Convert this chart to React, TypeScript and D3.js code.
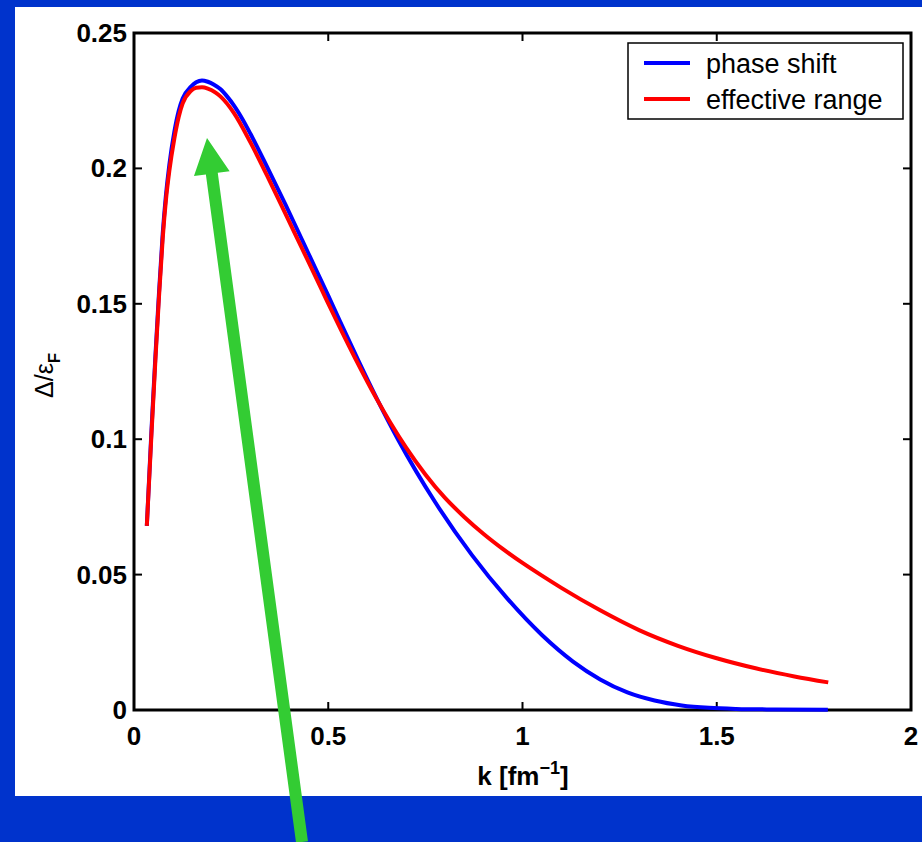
import React from "react";
import * as d3 from "d3";

const phaseK = [0.033, 0.045, 0.055, 0.0633, 0.0738, 0.082, 0.0909, 0.1038, 0.115, 0.1253, 0.1467, 0.16, 0.175, 0.19, 0.205, 0.223, 0.24, 0.257, 0.28, 0.3, 0.342, 0.39, 0.45, 0.5, 0.53, 0.58, 0.625, 0.68, 0.775, 0.87, 0.96, 1.05, 1.13, 1.2, 1.27, 1.34, 1.41, 1.48, 1.55, 1.65, 1.786];
const phaseV = [0.068, 0.1035, 0.1305, 0.1515, 0.1757, 0.1898, 0.2013, 0.2135, 0.2212, 0.2258, 0.2302, 0.2318, 0.2325, 0.232, 0.231, 0.2292, 0.2265, 0.2233, 0.218, 0.2127, 0.2007, 0.1866, 0.1683, 0.153, 0.1436, 0.1283, 0.115, 0.0998, 0.0768, 0.0572, 0.0413, 0.0277, 0.0179, 0.0113, 0.0065, 0.0035, 0.0017, 0.0008, 0.0004, 0.0002, 0.0001];

const rangeK = [0.033, 0.045, 0.055, 0.0633, 0.0738, 0.082, 0.0909, 0.1038, 0.115, 0.1253, 0.1467, 0.16, 0.175, 0.19, 0.21, 0.223, 0.257, 0.3, 0.342, 0.39, 0.43, 0.47, 0.497, 0.53, 0.57, 0.625, 0.66, 0.7, 0.75, 0.8, 0.85, 0.9, 0.95, 1.0, 1.05, 1.1, 1.2, 1.3, 1.4, 1.5, 1.6, 1.7, 1.787];
const rangeV = [0.068, 0.102, 0.129, 0.15, 0.174, 0.188, 0.199, 0.211, 0.219, 0.224, 0.2287, 0.2298, 0.23, 0.2295, 0.228, 0.2265, 0.2205, 0.2095, 0.1975, 0.1832, 0.1712, 0.1592, 0.151, 0.1412, 0.1297, 0.1148, 0.1061, 0.097, 0.087, 0.0784, 0.0713, 0.065, 0.0594, 0.0543, 0.0496, 0.0451, 0.0368, 0.0295, 0.0237, 0.0191, 0.0154, 0.0124, 0.0102];

const xTicks = [0, 0.5, 1, 1.5, 2];
const yTicks = [0, 0.05, 0.1, 0.15, 0.2, 0.25];
const xTickLabels = ["0", "0.5", "1", "1.5", "2"];
const yTickLabels = ["0", "0.05", "0.1", "0.15", "0.2", "0.25"];
const seriesNames = ["phase shift", "effective range"];

const W = 922;
const H = 842;
const L = 134, R = 911, T = 33, B = 710;

export default function App() {
  const x = d3.scaleLinear().domain([0, 2]).range([L, R]);
  const y = d3.scaleLinear().domain([0, 0.25]).range([B, T]);
  const line = d3
    .line<[number, number]>()
    .x((d) => x(d[0]))
    .y((d) => y(d[1]))
    .curve(d3.curveMonotoneX);
  const phase = phaseK.map((k, i) => [k, phaseV[i]] as [number, number]);
  const range = rangeK.map((k, i) => [k, rangeV[i]] as [number, number]);
  const font = "'Liberation Sans', Arial, Helvetica, sans-serif";

  // arrow
  const ax0 = 302, ay0 = 842, ax1 = 207, ay1 = 138;
  const dx = ax1 - ax0, dy = ay1 - ay0;
  const len = Math.hypot(dx, dy);
  const ux = dx / len, uy = dy / len;
  const px = -uy, py = ux;
  const headLen = 36, headW = 18, shaftW = 6;
  const bx = ax1 - ux * headLen, by = ay1 - uy * headLen;
  const arrowPts = [
    [ax0 + px * shaftW, ay0 + py * shaftW],
    [bx + px * shaftW, by + py * shaftW],
    [bx + px * headW, by + py * headW],
    [ax1, ay1],
    [bx - px * headW, by - py * headW],
    [bx - px * shaftW, by - py * shaftW],
    [ax0 - px * shaftW, ay0 - py * shaftW],
  ];

  return (
    <svg
      width={W}
      height={H}
      style={{ position: "absolute", left: 0, top: 0, display: "block" }}
      fontFamily={font}
    >
      <rect x={0} y={0} width={W} height={H} fill="#0033cc" />
      <rect x={15} y={7} width={W - 15} height={789} fill="#ffffff" />

      {/* frame */}
      <rect x={L} y={T} width={R - L} height={B - T} fill="none" stroke="#000" strokeWidth={3} />
      {xTicks.map((t, i) => (
        <g key={"x" + i}>
          <line x1={x(t)} x2={x(t)} y1={B} y2={B - 8} stroke="#000" strokeWidth={2} />
          <line x1={x(t)} x2={x(t)} y1={T} y2={T + 8} stroke="#000" strokeWidth={2} />
          <text x={x(t)} y={745} textAnchor="middle" fontSize={26} fontWeight="bold">
            {xTickLabels[i]}
          </text>
        </g>
      ))}
      {yTicks.map((t, i) => (
        <g key={"y" + i}>
          <line x1={L} x2={L + 8} y1={y(t)} y2={y(t)} stroke="#000" strokeWidth={2} />
          <line x1={R} x2={R - 8} y1={y(t)} y2={y(t)} stroke="#000" strokeWidth={2} />
          <text x={127} y={y(t) + 9} textAnchor="end" fontSize={26} fontWeight="bold">
            {yTickLabels[i]}
          </text>
        </g>
      ))}

      {/* curves */}
      <path d={line(phase) || ""} fill="none" stroke="#0000ff" strokeWidth={4} />
      <path d={line(range) || ""} fill="none" stroke="#ff0000" strokeWidth={4} />

      {/* axis labels */}
      <text x={523} y={785} textAnchor="middle" fontSize={26} fontWeight="bold">
        k [fm
        <tspan fontSize={18} dy={-11}>−1</tspan>
        <tspan dy={11}>]</tspan>
      </text>
      <text transform="translate(53,398) rotate(-90)" fontSize={25}>
        Δ/ε
        <tspan fontSize={17} fontWeight="bold" dy={7}>F</tspan>
      </text>

      {/* legend */}
      <rect x={628} y={43} width={275} height={76} fill="#fff" stroke="#000" strokeWidth={1.5} />
      <line x1={644} x2={690} y1={63} y2={63} stroke="#0000ff" strokeWidth={4} />
      <line x1={644} x2={690} y1={99} y2={99} stroke="#ff0000" strokeWidth={4} />
      <text x={706} y={73} fontSize={27}>{seriesNames[0]}</text>
      <text x={706} y={109} fontSize={27}>{seriesNames[1]}</text>

      {/* green arrow */}
      <polygon points={arrowPts.map((p) => p.join(",")).join(" ")} fill="#33cc33" />
    </svg>
  );
}
